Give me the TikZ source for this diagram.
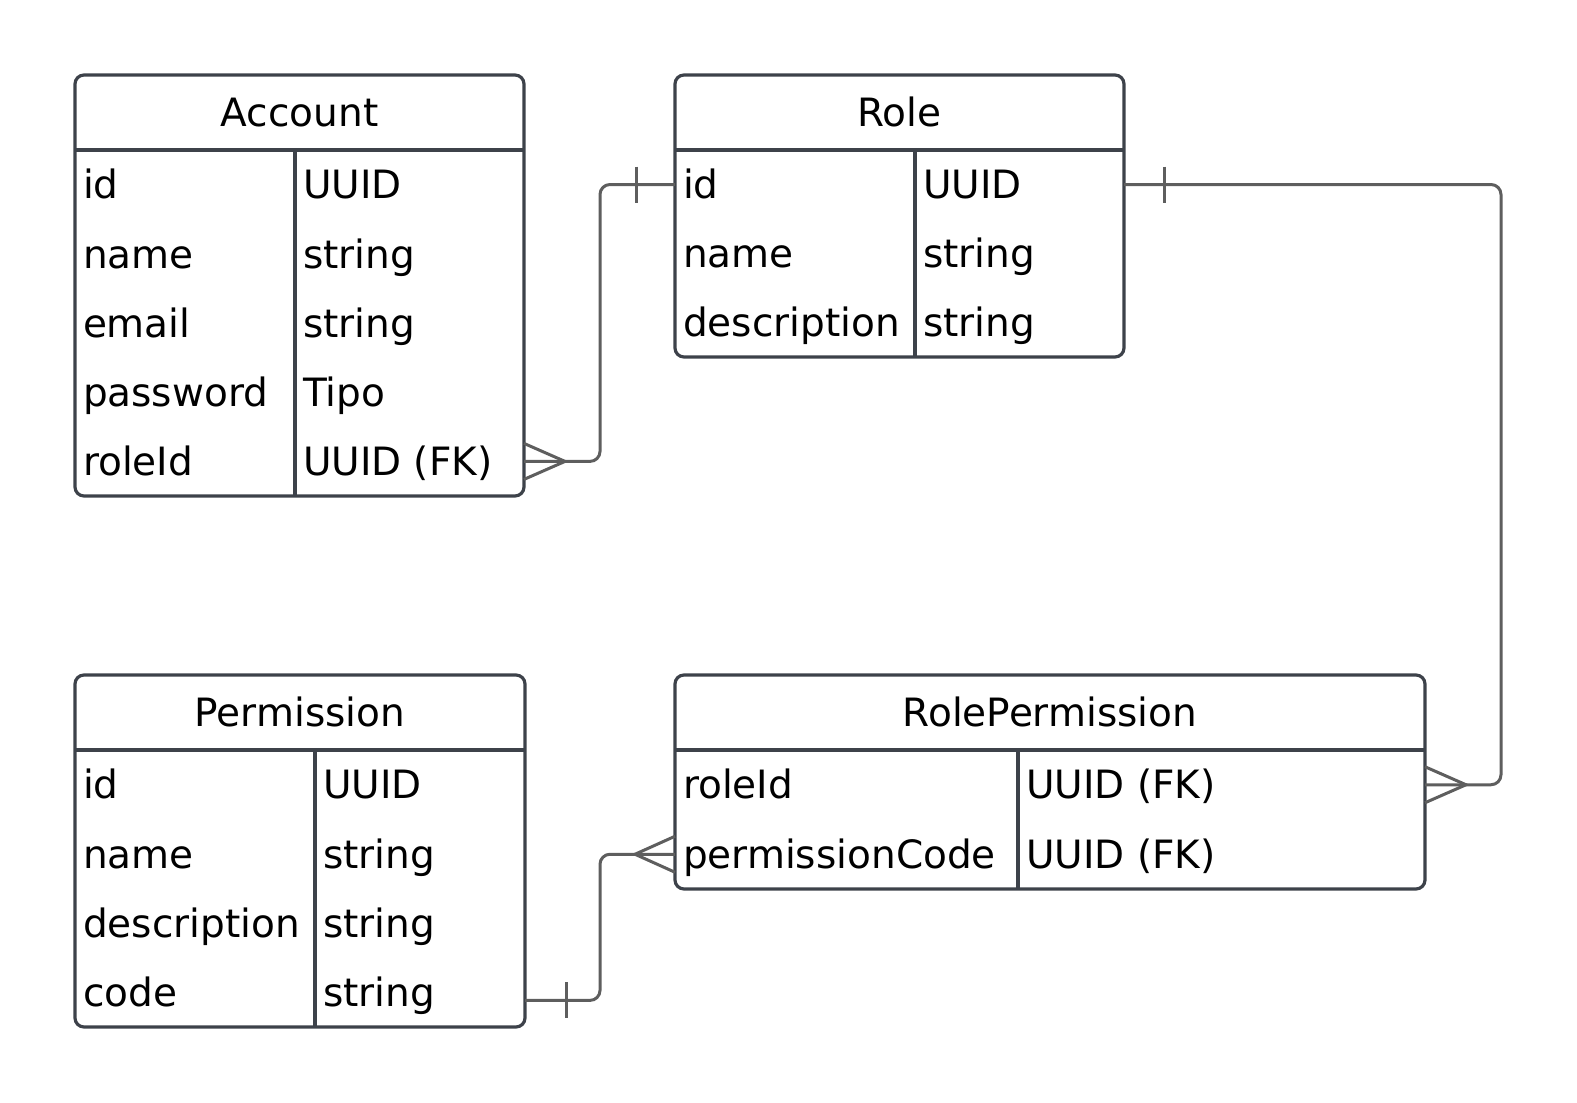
\documentclass[tikz,border=0pt]{standalone}
\usepackage{fontspec}
\setmainfont{DejaVu Sans}
\usetikzlibrary{calc}
\definecolor{boxc}{HTML}{3D424A}
\definecolor{connc}{HTML}{5E5E5E}
\begin{document}
\begin{tikzpicture}[x=1pt,y=-1pt,
  tbl/.style={draw=boxc, line width=3.2pt, rounded corners=9pt, inner sep=0pt, outer sep=0pt, anchor=north west},
  sep/.style={draw=boxc, line width=3.2pt},
  txt/.style={inner sep=0pt, outer sep=0pt, font=\fontsize{39}{44}\selectfont, text height=28.4pt, text depth=0pt, anchor=west},
  ttl/.style={txt, anchor=center},
  conn/.style={draw=connc, line width=3pt},
  link/.style={conn, rounded corners=10pt}]
\useasboundingbox (0,0) rectangle (1577,1103);

% ---------- Account ----------
\node[tbl, minimum width=449pt, minimum height=421pt] (account) at (75,75) {};
\draw[sep] (75,150) -- (524,150);
\draw[sep] (295,150) -- (295,496);
\node[ttl] (account-t) at (299.5,112.5) {Account};
\node[txt] (acc-id) at (83,184.6) {id};
\node[txt] (acc-id-ty) at (303,184.6) {UUID};
\node[txt] (acc-name) at (83,253.8) {name};
\node[txt] (acc-name-ty) at (303,253.8) {string};
\node[txt] (acc-email) at (83,323.0) {email};
\node[txt] (acc-email-ty) at (303,323.0) {string};
\node[txt] (acc-pw) at (83,392.2) {password};
\node[txt] (acc-pw-ty) at (303,392.2) {Tipo};
\node[txt] (acc-roleid) at (83,461.4) {roleId};
\node[txt] (acc-roleid-ty) at (303,461.4) {UUID (FK)};

% ---------- Role ----------
\node[tbl, minimum width=449pt, minimum height=282pt] (role) at (675,75) {};
\draw[sep] (675,150) -- (1124,150);
\draw[sep] (915,150) -- (915,357);
\node[ttl] (role-t) at (899.5,112.5) {Role};
\node[txt] (role-id) at (683,184.5) {id};
\node[txt] (role-id-ty) at (923,184.5) {UUID};
\node[txt] (role-name) at (683,253.5) {name};
\node[txt] (role-name-ty) at (923,253.5) {string};
\node[txt] (role-desc) at (683,322.5) {description};
\node[txt] (role-desc-ty) at (923,322.5) {string};

% ---------- Permission ----------
\node[tbl, minimum width=450pt, minimum height=352pt] (perm) at (75,675) {};
\draw[sep] (75,750) -- (525,750);
\draw[sep] (315,750) -- (315,1027);
\node[ttl] (perm-t) at (300,712.5) {Permission};
\node[txt] (perm-id) at (83,784.6) {id};
\node[txt] (perm-id-ty) at (323,784.6) {UUID};
\node[txt] (perm-name) at (83,853.9) {name};
\node[txt] (perm-name-ty) at (323,853.9) {string};
\node[txt] (perm-desc) at (83,923.1) {description};
\node[txt] (perm-desc-ty) at (323,923.1) {string};
\node[txt] (perm-code) at (83,992.4) {code};
\node[txt] (perm-code-ty) at (323,992.4) {string};

% ---------- RolePermission ----------
\node[tbl, minimum width=750pt, minimum height=214pt] (rp) at (675,675) {};
\draw[sep] (675,750) -- (1425,750);
\draw[sep] (1018,750) -- (1018,889);
\node[ttl] (rp-t) at (1050,712.5) {RolePermission};
\node[txt] (rp-roleid) at (683,784.75) {roleId};
\node[txt] (rp-roleid-ty) at (1026,784.75) {UUID (FK)};
\node[txt] (rp-pcode) at (683,854.25) {permissionCode};
\node[txt] (rp-pcode-ty) at (1026,854.25) {UUID (FK)};

% ---------- Account.roleId }o--|| Role.id ----------
\draw[link] (account.east |- acc-roleid) -- ++(76,0) |- (role.west |- role-id);
\draw[conn] (account.east |- acc-roleid) ++(0,-18) -- ++(41,18) -- ++(-41,18);
\draw[conn] (role.west |- role-id) ++(-39,-18) -- ++(0,36);

% ---------- Role.id ||--{ RolePermission.roleId ----------
\draw[link] (role.east |- role-id) -- ++(377,0) |- (rp.east |- rp-roleid);
\draw[conn] (role.east |- role-id) ++(40,-18) -- ++(0,36);
\draw[conn] (rp.east |- rp-roleid) ++(0,-18) -- ++(41,18) -- ++(-41,18);

% ---------- Permission.code ||--{ RolePermission.permissionCode ----------
\draw[link] ($(perm.east |- perm-code)+(0,8)$) -- ++(75,0) |- (rp.west |- rp-pcode);
\draw[conn] ($(perm.east |- perm-code)+(41,-10)$) -- ++(0,36);
\draw[conn] (rp.west |- rp-pcode) ++(0,-18) -- ++(-40,18) -- ++(40,18);
\end{tikzpicture}
\end{document}
